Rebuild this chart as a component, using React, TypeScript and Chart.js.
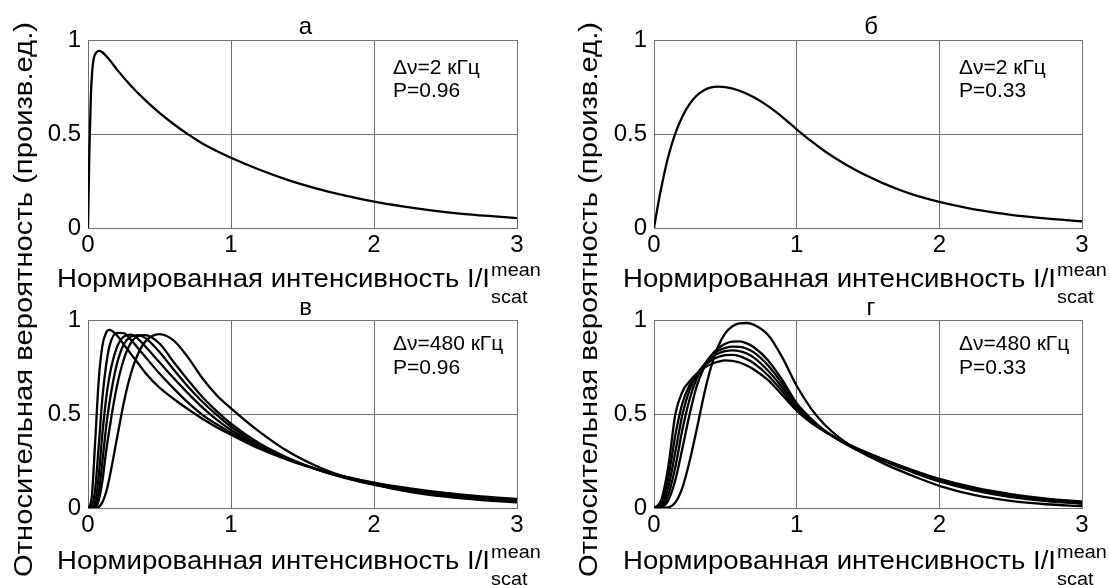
import React, { useEffect, useRef } from "react";
import { Chart, registerables } from "chart.js";

Chart.register(...registerables);

// ---------------- data ----------------
const xTickValues = [0, 1, 2, 3];
const xTickLabels = ["0", "1", "2", "3"];
const yTickValues = [0, 0.5, 1];
const yTickLabels = ["0", "0.5", "1"];

const panelTitles = ["а", "б", "в", "г"];
const bandwidthLabels = ["Δν=2 кГц", "Δν=2 кГц", "Δν=480 кГц", "Δν=480 кГц"];
const pLabels = ["P=0.96", "P=0.33", "P=0.96", "P=0.33"];
const xAxisTitle = "Нормированная интенсивность I/I";
const xAxisSup = "mean";
const xAxisSub = "scat";
const yAxisTitle = "Относительная вероятность (произв.ед.)";

// panel а
const aX = [0, 0.01, 0.02, 0.03, 0.04, 0.06, 0.08, 0.1, 0.15, 0.2, 0.3, 0.4, 0.5, 0.6, 0.7, 0.8, 0.9, 1.0, 1.2, 1.4, 1.6, 1.8, 2.0, 2.2, 2.4, 2.6, 2.8, 3.0];
const aY = [0, 0.42, 0.7, 0.84, 0.9, 0.935, 0.942, 0.935, 0.895, 0.845, 0.757, 0.68, 0.612, 0.552, 0.498, 0.45, 0.41, 0.374, 0.31, 0.255, 0.21, 0.172, 0.14, 0.115, 0.094, 0.077, 0.064, 0.053];

// panel б
const bX = [0, 0.025, 0.05, 0.1, 0.15, 0.2, 0.25, 0.3, 0.35, 0.4, 0.45, 0.5, 0.6, 0.7, 0.8, 0.9, 1.0, 1.1, 1.2, 1.3, 1.4, 1.5, 1.6, 1.7, 1.8, 1.9, 2.0, 2.2, 2.4, 2.6, 2.8, 3.0];
const bY = [0, 0.11, 0.21, 0.38, 0.505, 0.595, 0.66, 0.705, 0.733, 0.748, 0.752, 0.749, 0.73, 0.695, 0.648, 0.59, 0.525, 0.463, 0.407, 0.358, 0.314, 0.275, 0.24, 0.209, 0.182, 0.159, 0.139, 0.106, 0.081, 0.062, 0.047, 0.036];

// panel в
const vX = [0, 0.025, 0.05, 0.075, 0.1, 0.125, 0.15, 0.2, 0.25, 0.3, 0.35, 0.4, 0.5, 0.6, 0.7, 0.8, 0.9, 1.0, 1.2, 1.4, 1.6, 1.8, 2.0, 2.25, 2.5, 2.75, 3.0];
const v1 = [0, 0.05, 0.35, 0.68, 0.86, 0.93, 0.947, 0.92, 0.87, 0.82, 0.77, 0.72, 0.64, 0.58, 0.525, 0.475, 0.43, 0.39, 0.315, 0.255, 0.207, 0.167, 0.135, 0.104, 0.08, 0.062, 0.048];
const v2 = [0, 0.01, 0.1, 0.33, 0.58, 0.75, 0.86, 0.932, 0.93, 0.895, 0.85, 0.805, 0.715, 0.635, 0.56, 0.495, 0.445, 0.4, 0.322, 0.258, 0.206, 0.165, 0.132, 0.1, 0.076, 0.057, 0.044];
const v3 = [0, 0, 0.03, 0.17, 0.39, 0.57, 0.7, 0.85, 0.912, 0.922, 0.9, 0.86, 0.775, 0.69, 0.61, 0.535, 0.47, 0.415, 0.328, 0.26, 0.206, 0.163, 0.13, 0.097, 0.072, 0.053, 0.04];
const v4 = [0, 0, 0.01, 0.08, 0.24, 0.42, 0.56, 0.76, 0.87, 0.912, 0.92, 0.905, 0.83, 0.735, 0.645, 0.565, 0.495, 0.432, 0.335, 0.263, 0.205, 0.161, 0.127, 0.094, 0.069, 0.05, 0.037];
const v5 = [0, 0, 0, 0.04, 0.14, 0.29, 0.42, 0.64, 0.79, 0.878, 0.915, 0.92, 0.875, 0.775, 0.68, 0.59, 0.515, 0.448, 0.343, 0.266, 0.205, 0.159, 0.124, 0.09, 0.065, 0.047, 0.034];
const v6 = [0, 0, 0, 0.005, 0.03, 0.08, 0.16, 0.36, 0.56, 0.715, 0.82, 0.885, 0.925, 0.89, 0.8, 0.69, 0.6, 0.53, 0.405, 0.3, 0.222, 0.165, 0.124, 0.086, 0.06, 0.042, 0.03];

// panel г
const gX = [0, 0.05, 0.1, 0.15, 0.2, 0.25, 0.3, 0.35, 0.4, 0.45, 0.5, 0.55, 0.6, 0.65, 0.7, 0.8, 0.9, 1.0, 1.1, 1.2, 1.4, 1.6, 1.8, 2.0, 2.25, 2.5, 2.75, 3.0];
const g1 = [0, 0.04, 0.22, 0.5, 0.62, 0.675, 0.715, 0.745, 0.765, 0.778, 0.785, 0.783, 0.774, 0.758, 0.737, 0.68, 0.6, 0.518, 0.455, 0.405, 0.325, 0.262, 0.205, 0.155, 0.108, 0.074, 0.05, 0.035];
const g2 = [0, 0.025, 0.16, 0.39, 0.56, 0.655, 0.715, 0.755, 0.785, 0.803, 0.813, 0.815, 0.808, 0.792, 0.77, 0.705, 0.62, 0.527, 0.46, 0.406, 0.323, 0.26, 0.203, 0.152, 0.104, 0.07, 0.047, 0.031];
const g3 = [0, 0.015, 0.11, 0.3, 0.5, 0.63, 0.71, 0.76, 0.8, 0.822, 0.834, 0.838, 0.835, 0.822, 0.8, 0.73, 0.64, 0.537, 0.465, 0.407, 0.321, 0.258, 0.2, 0.148, 0.1, 0.066, 0.043, 0.028];
const g4 = [0, 0.008, 0.07, 0.22, 0.42, 0.58, 0.69, 0.76, 0.81, 0.837, 0.852, 0.858, 0.857, 0.847, 0.828, 0.758, 0.66, 0.547, 0.47, 0.408, 0.319, 0.256, 0.197, 0.145, 0.096, 0.062, 0.04, 0.025];
const g5 = [0, 0.004, 0.04, 0.15, 0.32, 0.5, 0.65, 0.745, 0.81, 0.85, 0.874, 0.885, 0.886, 0.876, 0.855, 0.785, 0.68, 0.557, 0.476, 0.41, 0.317, 0.253, 0.194, 0.141, 0.092, 0.058, 0.037, 0.022];
const g6 = [0, 0, 0.003, 0.03, 0.11, 0.25, 0.42, 0.6, 0.75, 0.86, 0.93, 0.967, 0.982, 0.984, 0.975, 0.92, 0.8, 0.65, 0.53, 0.44, 0.32, 0.24, 0.175, 0.118, 0.068, 0.038, 0.02, 0.01];

// ---------------- layout ----------------
const W = 1110;
const H = 585;
const FONT = '"Liberation Sans", Arial, Helvetica, sans-serif';

type Box = { l: number; r: number; t: number; b: number };
type PanelDef = {
  xs: number[];
  series: number[][];
  box: Box;
  idx: number;
  titleBaseline: number;
  annDy: number[];
  annDx: number;
  xTitleBaseline: number;
  yTitleX: number | null;
};

const panels: PanelDef[] = [
  { xs: aX, series: [aY], box: { l: 88, r: 517, t: 40, b: 228 }, idx: 0, titleBaseline: 34, annDy: [34, 57], annDx: 305, xTitleBaseline: 287, yTitleX: 25 },
  { xs: bX, series: [bY], box: { l: 654, r: 1082, t: 40, b: 228 }, idx: 1, titleBaseline: 34, annDy: [34, 57], annDx: 305, xTitleBaseline: 287, yTitleX: 590 },
  { xs: vX, series: [v1, v2, v3, v4, v5, v6], box: { l: 88, r: 517, t: 320, b: 508 }, idx: 2, titleBaseline: 315, annDy: [30, 54], annDx: 305, xTitleBaseline: 569, yTitleX: null },
  { xs: gX, series: [g1, g2, g3, g4, g5, g6], box: { l: 654, r: 1082, t: 320, b: 508 }, idx: 3, titleBaseline: 315, annDy: [30, 54], annDx: 305, xTitleBaseline: 569, yTitleX: null },
];

const textPlugin = {
  id: "panelText",
  afterDraw(chart: any, _args: any, opts: any) {
    const { ctx, chartArea } = chart;
    const p: PanelDef = opts.panel;
    ctx.save();
    ctx.fillStyle = "#000";
    // title
    ctx.font = `24px ${FONT}`;
    ctx.textAlign = "center";
    ctx.textBaseline = "alphabetic";
    ctx.fillText(panelTitles[p.idx], (chartArea.left + chartArea.right) / 2 + 3, p.titleBaseline);
    // annotation
    ctx.font = `21px ${FONT}`;
    ctx.textAlign = "left";
    ctx.fillText(bandwidthLabels[p.idx], chartArea.left + p.annDx, chartArea.top + p.annDy[0]);
    ctx.fillText(pLabels[p.idx], chartArea.left + p.annDx, chartArea.top + p.annDy[1]);
    // x axis title with super/subscript
    ctx.save();
    ctx.font = `25px ${FONT}`;
    const wMain = ctx.measureText(xAxisTitle).width;
    const sx = 433 / wMain;
    ctx.translate(chartArea.left - 31, p.xTitleBaseline);
    ctx.scale(sx, 1);
    ctx.fillText(xAxisTitle, 0, 0);
    ctx.font = `18px ${FONT}`;
    ctx.fillText(xAxisSup, wMain + 1, -11);
    ctx.fillText(xAxisSub, wMain + 1, 16);
    ctx.restore();
    // y axis title (one per column)
    if (p.yTitleX !== null) {
      ctx.save();
      ctx.font = `25px ${FONT}`;
      const wy = ctx.measureText(yAxisTitle).width;
      ctx.translate(p.yTitleX, 299.5);
      ctx.rotate(-Math.PI / 2);
      ctx.scale(555 / wy, 1);
      ctx.textAlign = "center";
      ctx.textBaseline = "middle";
      ctx.fillText(yAxisTitle, 0, 0);
      ctx.restore();
    }
    ctx.restore();
  },
};

function buildConfig(p: PanelDef): any {
  const gridColor = "#6e6e6e";
  return {
    type: "line",
    data: {
      datasets: p.series.map((ys) => ({
        data: p.xs.map((x, i) => ({ x, y: ys[i] })),
        borderColor: "#000",
        borderWidth: 2.3,
        pointRadius: 0,
        fill: false,
        cubicInterpolationMode: "monotone",
      })),
    },
    options: {
      responsive: false,
      animation: false,
      events: [],
      layout: { padding: { left: 0, top: p.box.t, right: W - p.box.r, bottom: 0 } },
      plugins: {
        legend: { display: false },
        tooltip: { enabled: false },
        title: { display: false },
        panelText: { panel: p },
      },
      scales: {
        x: {
          type: "linear",
          min: 0,
          max: 3,
          afterBuildTicks: (s: any) => {
            s.ticks = xTickValues.map((v) => ({ value: v }));
          },
          afterFit: (s: any) => {
            s.height = H - p.box.b;
            s.paddingLeft = 0;
            s.paddingRight = 0;
          },
          ticks: {
            callback: (_v: any, i: number) => xTickLabels[i],
            color: "#000",
            font: { family: FONT, size: 24 },
            padding: 3,
            maxRotation: 0,
            autoSkip: false,
          },
          grid: { color: gridColor, lineWidth: 1, drawTicks: false },
          border: { display: true, color: gridColor, width: 1 },
        },
        y: {
          type: "linear",
          min: 0,
          max: 1,
          afterBuildTicks: (s: any) => {
            s.ticks = yTickValues.map((v) => ({ value: v }));
          },
          afterFit: (s: any) => {
            s.width = p.box.l;
            s.paddingTop = 0;
            s.paddingBottom = 0;
          },
          ticks: {
            callback: (_v: any, i: number) => yTickLabels[i],
            color: "#000",
            font: { family: FONT, size: 24 },
            padding: 7,
            autoSkip: false,
          },
          grid: { color: gridColor, lineWidth: 1, drawTicks: false },
          border: { display: true, color: gridColor, width: 1 },
        },
      },
    },
    plugins: [textPlugin],
  };
}

function Panel({ p }: { p: PanelDef }) {
  const ref = useRef<HTMLCanvasElement | null>(null);
  useEffect(() => {
    if (!ref.current) return;
    const chart = new Chart(ref.current, buildConfig(p));
    return () => chart.destroy();
  }, [p]);
  return (
    <canvas
      ref={ref}
      width={W}
      height={H}
      style={{ position: "absolute", left: 0, top: 0, width: W, height: H }}
    />
  );
}

export default function App() {
  return (
    <div
      style={{
        position: "fixed",
        left: 0,
        top: 0,
        width: W,
        height: H,
        background: "#fff",
        overflow: "hidden",
      }}
    >
      {panels.map((p) => (
        <Panel key={p.idx} p={p} />
      ))}
    </div>
  );
}
